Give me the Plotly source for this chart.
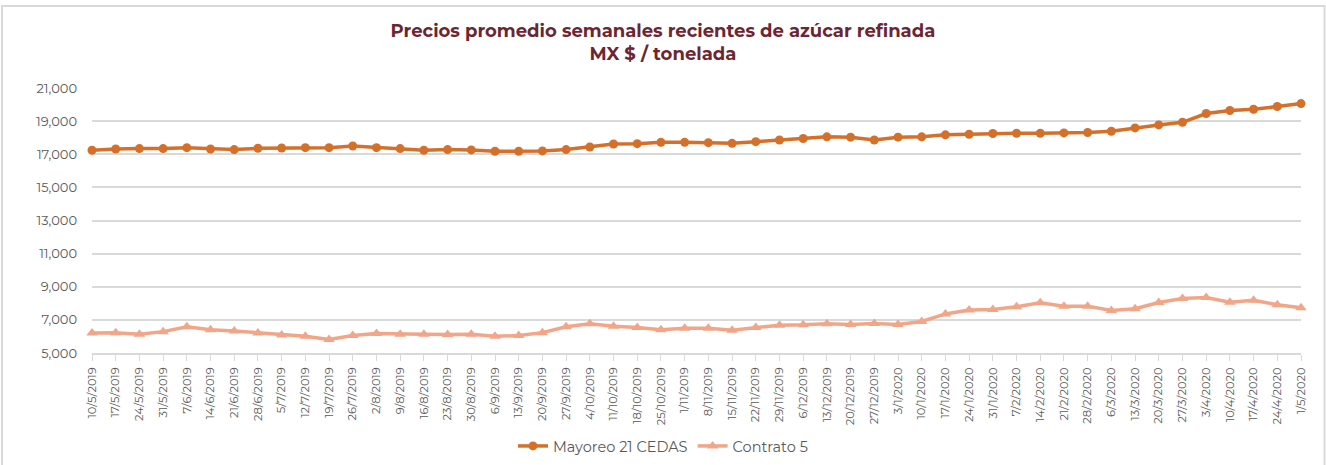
import plotly.graph_objects as go

fechas = ["10/5/2019", "17/5/2019", "24/5/2019", "31/5/2019", "7/6/2019", "14/6/2019",
          "21/6/2019", "28/6/2019", "5/7/2019", "12/7/2019", "19/7/2019", "26/7/2019",
          "2/8/2019", "9/8/2019", "16/8/2019", "23/8/2019", "30/8/2019", "6/9/2019",
          "13/9/2019", "20/9/2019", "27/9/2019", "4/10/2019", "11/10/2019", "18/10/2019",
          "25/10/2019", "1/11/2019", "8/11/2019", "15/11/2019", "22/11/2019", "29/11/2019",
          "6/12/2019", "13/12/2019", "20/12/2019", "27/12/2019", "3/1/2020", "10/1/2020",
          "17/1/2020", "24/1/2020", "31/1/2020", "7/2/2020", "14/2/2020", "21/2/2020",
          "28/2/2020", "6/3/2020", "13/3/2020", "20/3/2020", "27/3/2020", "3/4/2020",
          "10/4/2020", "17/4/2020", "24/4/2020", "1/5/2020"]

mayoreo = [17240, 17320, 17340, 17340, 17400, 17320, 17280, 17360, 17380, 17400,
           17400, 17500, 17400, 17340, 17240, 17280, 17260, 17180, 17180, 17200,
           17280, 17440, 17620, 17640, 17720, 17720, 17700, 17660, 17760, 17860,
           17950, 18050, 18030, 17860, 18030, 18050, 18170, 18210, 18250, 18270,
           18270, 18290, 18310, 18390, 18590, 18770, 18930, 19460, 19640, 19720,
           19880, 20060]

contrato5 = [6210, 6230, 6130, 6290, 6580, 6410, 6330, 6210, 6090, 6010,
             5810, 6050, 6170, 6130, 6130, 6110, 6130, 6010, 6050, 6230,
             6580, 6760, 6620, 6540, 6410, 6490, 6490, 6370, 6540, 6680,
             6700, 6760, 6720, 6780, 6720, 6900, 7360, 7590, 7630, 7790,
             8030, 7830, 7830, 7570, 7670, 8050, 8290, 8350, 8070, 8190,
             7910, 7730]

y_ticks = [5000, 7000, 9000, 11000, 13000, 15000, 17000, 19000, 21000]

FONT = "Montserrat, 'Open Sans', sans-serif"
GRAY = "#595959"

L, R, T, B = 92, 25, 88, 112
PW, PH = 1326 - L - R, 465 - T - B

fig = go.Figure()
fig.add_trace(go.Scatter(
    x=fechas, y=mayoreo, name="Mayoreo 21 CEDAS", mode="lines+markers",
    line=dict(color="#D5702B", width=3.5),
    marker=dict(symbol="circle", size=9, color="#D5702B"),
    cliponaxis=False,
))
fig.add_trace(go.Scatter(
    x=fechas, y=contrato5, name="Contrato 5", mode="lines+markers",
    line=dict(color="#F2A587", width=3.5),
    marker=dict(symbol="triangle-up", size=10, color="#F2A587"),
    cliponaxis=False,
))

fig.update_layout(
    width=1326, height=465,
    margin=dict(l=L, r=R, t=T, b=B, autoexpand=False),
    paper_bgcolor="white", plot_bgcolor="white",
    font=dict(family=FONT, color=GRAY, size=13),
    title=dict(
        text="<b>Precios promedio semanales recientes de azúcar refinada<br>MX $ / tonelada</b>",
        x=0.5, xref="container", xanchor="center", y=1 - 37 / 465, yref="container",
        yanchor="middle",
        font=dict(family=FONT, size=18, color="#6E2532"),
    ),
    showlegend=True,
    legend=dict(orientation="h", x=0.5 - (L - R) / 2 / PW, xanchor="center",
                y=-(446 - 353) / PH, yanchor="middle",
                font=dict(size=14.5, color=GRAY), itemwidth=30, tracegroupgap=0),
    shapes=[dict(type="rect", xref="paper", yref="paper",
                 x0=-(L - 2) / PW, x1=1 + (R - 1.5) / PW, y0=-(B + 5) / PH, y1=1 + (T - 6) / PH,
                 line=dict(color="#D9D9D9", width=2), fillcolor="rgba(0,0,0,0)",
                 layer="below")],
)

fig.update_xaxes(
    type="category", range=[0, len(fechas) - 1], automargin=False,
    tickangle=-90, tickfont=dict(size=11.5, color=GRAY),
    showgrid=False, showline=True, linecolor="#D9D9D9", linewidth=1.5,
    ticks="outside", ticklen=6, tickcolor="#D9D9D9", tickwidth=1,
    ticklabelstandoff=2,
)
fig.update_yaxes(
    range=[5000, 21000], tickvals=y_ticks, tickformat=",", automargin=False,
    tickfont=dict(size=13, color=GRAY),
    showgrid=True, gridcolor="#D9D9D9", gridwidth=1.5,
    zeroline=False, showline=False, ticks="", ticklabelstandoff=14,
)

fig.write_html("out.html", config={"displayModeBar": False},
               post_script="document.body.style.margin='0';document.body.style.overflow='hidden';")
